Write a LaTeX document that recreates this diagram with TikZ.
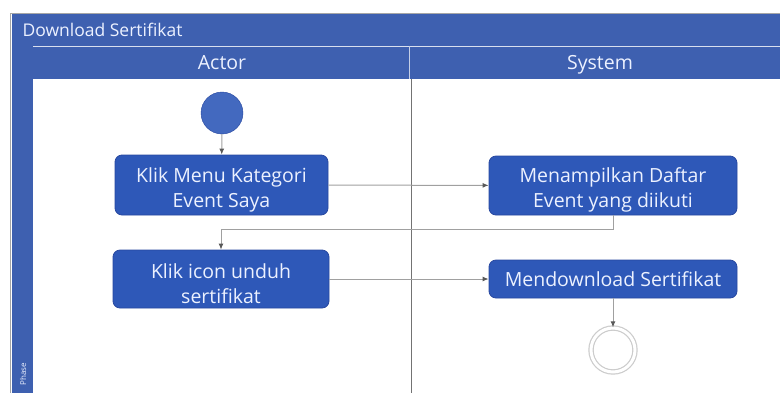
\documentclass[tikz,border=0pt]{standalone}
\usepackage{fontspec}
\setmainfont{Open Sans}
\usetikzlibrary{arrows.meta}
\definecolor{hdrblue}{RGB}{62,96,176}
\definecolor{nodeblue}{RGB}{46,88,184}
\definecolor{nodeedge}{RGB}{40,72,160}
\definecolor{txtw}{RGB}{236,241,255}
\definecolor{linegray}{RGB}{160,160,160}
\newcommand{\tallstrut}{\rule{0pt}{24pt}}
\tikzset{
  actbox/.style={draw=nodeedge, line width=0.8pt, fill=nodeblue, rounded corners=7pt,
    text=txtw, align=center, font=\fontsize{19.5}{25}\selectfont, inner sep=1pt},
  flow/.style={draw=linegray, line width=1pt, -{Latex[length=6pt,width=5pt,color=black!65]}},
  lanetitle/.style={text=txtw, font=\fontsize{19.5}{22}\selectfont, anchor=base},
}
\begin{document}
\begin{tikzpicture}[x=1pt,y=-1pt]
\useasboundingbox (0,0) rectangle (780,392);
\clip (0,0) rectangle (780,392);
% outer frame
\fill[white] (0,0) rectangle (780,392);
\draw[gray!70, line width=1pt] (10,400) -- (10,13) -- (790,13);
\fill[hdrblue] (12,14) rectangle (790,79);
\fill[hdrblue] (12,14) rectangle (33,400);
\fill[white] (33,79) rectangle (790,400);
\draw[white!80!hdrblue, line width=0.5pt] (33,46) -- (790,46);
\draw[black!55, line width=1pt] (411,79) -- (411,400);
\draw[white!70!hdrblue, line width=0.5pt] (409,46) -- (409,79);
% titles
\node[text=txtw, anchor=west, font=\fontsize{17.5}{19}\selectfont] (title) at (19,30) {Download Sertifikat};
\node[lanetitle] (actor) at (222,69) {Actor};
\node[lanetitle] (system) at (600,69) {System};
\node[text=txtw, rotate=90, font=\fontsize{8}{9}\selectfont] (phase) at (23,374) {Phase};
% nodes
\node[circle, fill=nodeblue!90!white, draw=nodeedge, minimum size=42pt, inner sep=0pt] (start) at (222,113) {};
\node[actbox, minimum width=213pt, minimum height=60pt] (n1) at (221.5,185) {\tallstrut Klik Menu Kategori\\Event Saya};
\node[actbox, minimum width=248pt, minimum height=59pt] (n3) at (613,185.5) {\tallstrut Menampilkan Daftar\\Event yang diikuti};
\node[actbox, minimum width=216pt, minimum height=58pt] (n2) at (221,279) {\tallstrut Klik icon unduh\\sertifikat};
\node[actbox, minimum width=248pt, minimum height=38pt] (n4) at (613,279) {Mendownload Sertifikat};
\node[circle, draw=gray!40, double=white, double distance=3pt, line width=1.2pt, minimum size=44pt, inner sep=0pt] (end) at (613,350) {};
% connectors
\draw[flow] (start) -- (n1);
\draw[flow] (n1) -- (n3);
\draw[flow] (n3.south) -- ++(0,14) -| (n2.north);
\draw[flow] (n2) -- (n4);
\draw[flow] (n4) -- (end);
\end{tikzpicture}
\end{document}
